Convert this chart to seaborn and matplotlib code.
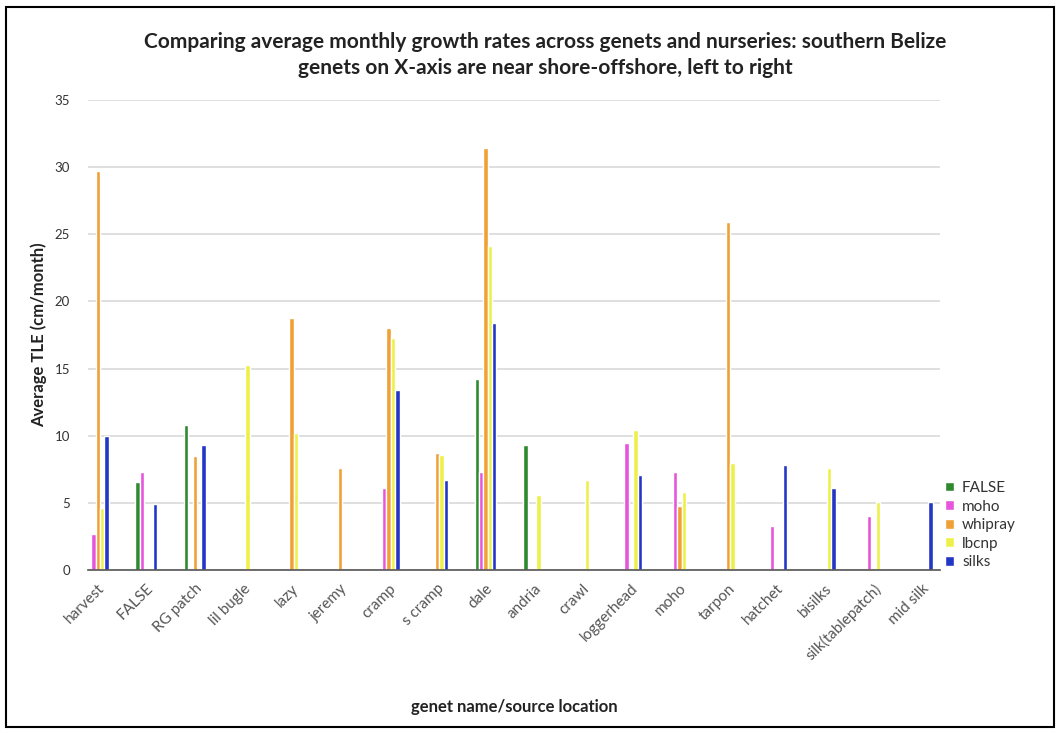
import numpy as np
import pandas as pd
import seaborn as sns
import matplotlib
matplotlib.use("Agg")
import matplotlib.pyplot as plt
from matplotlib.patches import Rectangle

genets = ["harvest", "FALSE", "RG patch", "lil bugle", "lazy", "jeremy", "cramp",
          "s cramp", "dale", "andria", "crawl", "loggerhead", "moho", "tarpon",
          "hatchet", "bisilks", "silk(tablepatch)", "mid silk"]
nurseries = ["FALSE", "moho", "whipray", "lbcnp", "silks"]
nan = np.nan
false_vals   = [nan, 6.6, 10.8, nan, nan, nan, nan, nan, 14.2, 9.3, nan, nan, nan, nan, nan, nan, nan, nan]
moho_vals    = [2.7, 7.3, nan, nan, nan, nan, 6.1, nan, 7.3, nan, nan, 9.5, 7.3, nan, 3.3, nan, 4.0, nan]
whipray_vals = [29.7, nan, 8.5, nan, 18.8, 7.6, 18.0, 8.7, 31.4, nan, nan, nan, 4.8, 25.9, nan, nan, nan, nan]
lbcnp_vals   = [4.6, nan, nan, 15.3, 10.2, nan, 17.3, 8.6, 24.1, 5.6, 6.7, 10.4, 5.8, 8.0, nan, 7.6, 5.1, nan]
silks_vals   = [10.0, 4.9, 9.3, nan, nan, nan, 13.4, 6.7, 18.4, nan, nan, 7.1, nan, nan, 7.8, 6.1, nan, 5.1]
colors = ["#2f8a2f", "#e655dc", "#f0a035", "#eef04a", "#2436c8"]

series = [false_vals, moho_vals, whipray_vals, lbcnp_vals, silks_vals]
rows = []
for name, vals in zip(nurseries, series):
    for g, v in zip(genets, vals):
        rows.append({"genet": g, "nursery": name, "tle": v})
df = pd.DataFrame(rows)

sns.set_style("white")
fam = ["Lato", "DejaVu Sans"]
plt.rcParams["font.family"] = fam

fig = plt.figure(figsize=(10.61, 7.33), dpi=100)
ax = fig.add_axes([0.083, 0.222, 0.803, 0.642])

sns.barplot(data=df, x="genet", y="tle", hue="nursery", order=genets,
            hue_order=nurseries, palette=colors, width=0.45, dodge=True,
            saturation=1, errorbar=None, ax=ax, legend=True)

ax.set_ylim(0, 35)
ax.set_xlim(-0.2, len(genets) - 1 + 0.33)
ax.set_yticks(np.arange(0, 36, 5))
ax.yaxis.grid(True, color="#d9d9d9", linewidth=1.2)
ax.set_axisbelow(True)
for s in ["top", "right", "left"]:
    ax.spines[s].set_visible(False)
ax.spines["bottom"].set_color("#555555")
ax.spines["bottom"].set_linewidth(1.2)

ax.tick_params(axis="y", length=0, labelsize=9.5, colors="#333333", pad=13)
ax.set_xticks(range(len(genets)))
ax.set_xticklabels(genets, rotation=45, ha="right", rotation_mode="anchor",
                   fontsize=11, color="#333333")
ax.tick_params(axis="x", length=6, direction="inout", colors="#555555", pad=5)
ax.set_xticks(np.arange(-0.125, len(genets) - 0.5, 0.25), minor=True)
ax.tick_params(axis="x", which="minor", length=6, direction="inout", colors="#555555")

ax.set_xlabel("genet name/source location", fontsize=12, fontweight="bold",
              color="#222222", labelpad=26)
ax.set_ylabel("Average TLE (cm/month)", fontsize=12, fontweight="bold",
              color="#222222", labelpad=5)

leg = ax.legend(loc="center left", bbox_to_anchor=(0.99, 0.096), frameon=False,
                fontsize=11, handlelength=0.6, handleheight=0.6,
                handletextpad=0.5, labelspacing=0.3)
for t in leg.get_texts():
    t.set_color("#333333")

fig.text(0.514, 1 - 42 / 733, "Comparing average monthly growth rates across genets and nurseries: southern Belize",
         ha="center", va="center", fontsize=15, fontweight="bold", color="#222222")
fig.text(0.514, 1 - 68 / 733, "genets on X-axis are near shore-offshore, left to right",
         ha="center", va="center", fontsize=15, fontweight="bold", color="#222222")

fig.patches.append(Rectangle((6 / 1061, 6 / 733), 1048 / 1061, 720 / 733,
                             transform=fig.transFigure, fill=False,
                             edgecolor="black", linewidth=1.5))

fig.savefig("out.png", dpi=100, facecolor="white")
